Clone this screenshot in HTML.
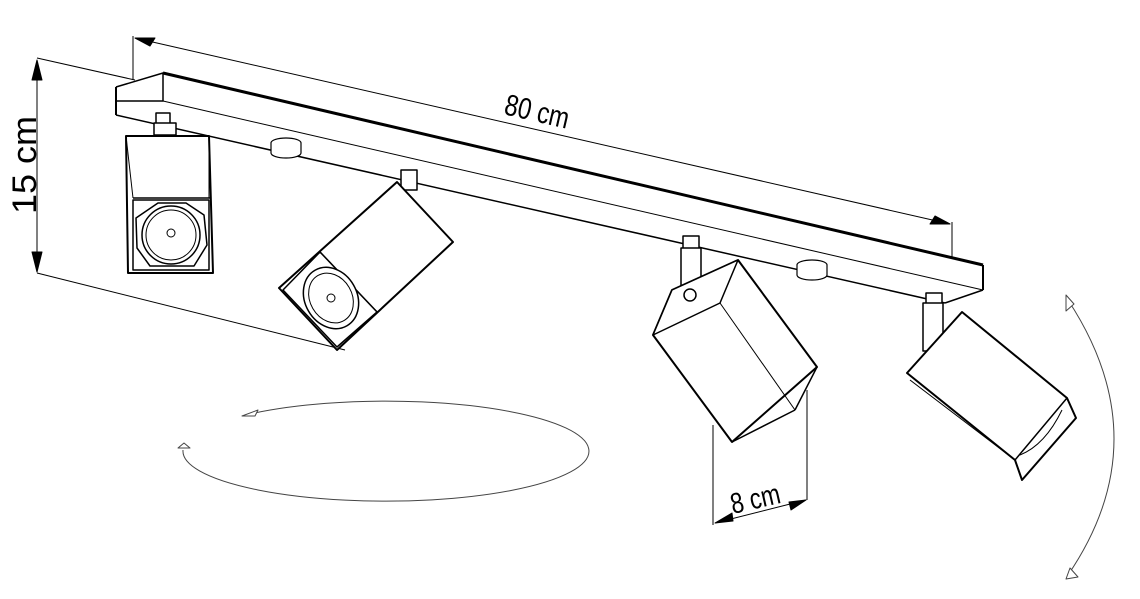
<!DOCTYPE html>
<html><head><meta charset="utf-8"><style>
html,body{margin:0;padding:0;background:#fff;}
svg{display:block;}
text{font-family:"Liberation Sans",Arial,sans-serif;fill:#000;}
</style></head><body>
<svg width="1140" height="599" viewBox="0 0 1140 599" xmlns="http://www.w3.org/2000/svg">
<g fill="none" stroke="#000" stroke-linejoin="round">
<!-- 80 cm dimension -->
<line x1="133" y1="36" x2="133" y2="80" stroke-width="1"/>
<line x1="952" y1="222" x2="952" y2="258" stroke-width="1"/>
<line x1="135" y1="38" x2="950" y2="224" stroke-width="1"/>
<polygon points="135,38 155,38 150,46" fill="#000"/>
<polygon points="950,224 930,224 935,216" fill="#000"/>
<!-- 15 cm dimension -->
<line x1="37" y1="58" x2="135" y2="80" stroke-width="1"/>
<line x1="37" y1="273" x2="345" y2="350" stroke-width="1"/>
<line x1="37" y1="60" x2="37" y2="272" stroke-width="1"/>
<polygon points="37,60 32,80 42,80" fill="#000"/>
<polygon points="37,272 32,252 42,252" fill="#000"/>

<!-- rail -->
<line x1="163" y1="73" x2="983" y2="265" stroke-width="3"/>
<polyline points="116,87 163,73 163,101 116,101" stroke-width="1.5"/>
<line x1="116" y1="87" x2="116" y2="115" stroke-width="2"/>
<line x1="163" y1="101" x2="983" y2="290" stroke-width="1"/>
<line x1="116" y1="115" x2="945" y2="303" stroke-width="1.5"/>
<line x1="983" y1="265" x2="983" y2="290" stroke-width="2"/>
<line x1="983" y1="290" x2="945" y2="303" stroke-width="1.5"/>

<!-- mounts -->
<g stroke-width="1.2" fill="#fff">
<path d="M271,143 v10 a15,5 0 0 0 30,0 v-10 a15,5 0 0 0 -30,0z"/>
<path d="M797,265 v10 a15,5 0 0 0 30,0 v-10 a15,5 0 0 0 -30,0z"/>
</g>

<!-- spot 1 -->
<g stroke-width="1.5" fill="#fff">
<rect x="156" y="113" width="14" height="12"/>
<rect x="154" y="123" width="22" height="12"/>
<polygon points="126,136 209,136 213,273 128,273" stroke-width="2"/>
<line x1="133" y1="198" x2="210" y2="198"/>
<rect x="133" y="200" width="76" height="70"/>
<polygon points="158,203 186,203 204,215 207,245 194,266 150,266 137,248 136,218"/>
<circle cx="171" cy="235" r="29"/>
<circle cx="171" cy="235" r="25" stroke-width="1"/>
<circle cx="171" cy="233" r="4" stroke-width="1"/>
<line x1="126" y1="136" x2="133" y2="198" stroke-width="1"/>
<line x1="209" y1="136" x2="209" y2="198" stroke-width="1"/>
</g>

<!-- spot 2 -->
<g stroke-width="1.5" fill="#fff">
<rect x="401" y="170" width="16" height="20"/>
<polygon points="397,182 453,242 337,350 279,288" stroke-width="2"/>
<line x1="320" y1="252" x2="377" y2="312"/>
<polygon points="320,252 377,312 337,347 283,290" />
<ellipse cx="331" cy="298" rx="26" ry="32" transform="rotate(-30 331 298)"/>
<ellipse cx="331" cy="298" rx="21" ry="26" transform="rotate(-30 331 298)" stroke-width="1"/>
<circle cx="331" cy="298" r="4" stroke-width="1"/>
</g>

<!-- spot 3 -->
<g stroke-width="1.5" fill="#fff">
<rect x="683" y="236" width="16" height="14"/>
<rect x="681" y="248" width="20" height="45"/>
<polygon points="738,260 817,367 732,442 653,335 672,290" stroke-width="2"/>
<polygon points="672,290 738,260 720,303 653,335"/>
<line x1="720" y1="303" x2="795" y2="410" stroke-width="1"/>
<line x1="795" y1="410" x2="817" y2="367"/>
<line x1="795" y1="410" x2="732" y2="442"/>
<circle cx="690" cy="295" r="6"/>
</g>

<!-- spot 4 -->
<g stroke-width="1.5" fill="#fff">
<rect x="926" y="293" width="16" height="12"/>
<rect x="923" y="303" width="20" height="48"/>
<polygon points="962,312 1067,398 1076,418 1022,480 1015,460 907,373" stroke-width="2"/>
<line x1="910" y1="380" x2="1015" y2="460" stroke-width="1"/>
<line x1="1015" y1="460" x2="1067" y2="398"/>
<path d="M1020,455 Q1045,445 1062,410" stroke-width="1"/>
</g>

<!-- 8 cm dimension -->
<line x1="713" y1="425" x2="713" y2="525" stroke-width="1"/>
<line x1="807" y1="390" x2="807" y2="500" stroke-width="1"/>
<line x1="715" y1="523" x2="806" y2="500" stroke-width="1"/>
<polygon points="715,523 732,513 733,521" fill="#000"/>
<polygon points="806,500 789,502 791,510" fill="#000"/>

<!-- rotation ellipse -->
<path d="M250,414 A203,50 0 1 1 183,450" stroke="#444" stroke-width="1"/>
<polygon points="242,416 258,410 255,416" fill="#fff" stroke="#444" stroke-width="1"/>
<polygon points="178,448 184,443 190,448" fill="#fff" stroke="#444" stroke-width="1"/>

<!-- tilt arc -->
<path d="M1068,300 Q1160,440 1068,575" stroke="#444" stroke-width="1"/>
<polygon points="1066,295 1066,311 1074,304" fill="#fff" stroke="#444" stroke-width="1"/>
<polygon points="1066,579 1078,577 1070,568" fill="#fff" stroke="#444" stroke-width="1"/>
</g>

<text x="0" y="0" font-size="30" transform="translate(503,114) rotate(13) scale(0.8,1)">80 cm</text>
<text x="0" y="0" font-size="36" transform="translate(36,214) rotate(-90) scale(1,0.95)">15 cm</text>
<text x="0" y="0" font-size="29" transform="translate(733,514) rotate(-13) scale(0.8,1)">8 cm</text>
</svg>
</body></html>
